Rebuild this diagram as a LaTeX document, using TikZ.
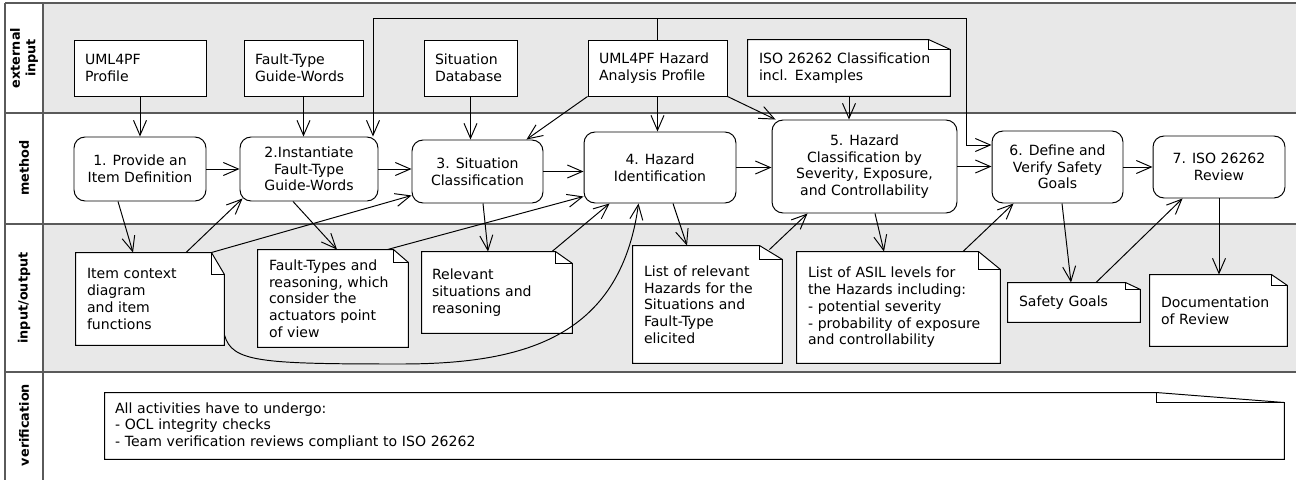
\documentclass[tikz,border=0pt]{standalone}
\usepackage{fontspec}
\setmainfont{DejaVu Sans}
\usetikzlibrary{arrows.meta}
\definecolor{lanegrey}{HTML}{E8E8E8}
\definecolor{laneline}{HTML}{5A5A5A}

\begin{document}
\begin{tikzpicture}[x=0.02cm,y=-0.02cm,line width=0.55pt,
		font=\fontsize{8}{9.5}\selectfont,
		lanetitle/.style={rotate=90,font=\fontsize{7.3}{8.8}\selectfont\bfseries,align=center},
		inbox/.style={draw,fill=white,align=left,inner xsep=0.22cm,inner ysep=0pt,minimum height=1.12cm},
		actbox/.style={draw,fill=white,rounded corners=0.22cm,align=center,inner sep=0pt},
		note/.style={fill=white,align=left,inner xsep=0.22cm,inner ysep=0pt},
		arr/.style={-{Straight Barb[length=0.3cm,width=0.26cm]}},
		arrboth/.style={{Straight Barb[length=0.3cm,width=0.26cm]}-{Straight Barb[length=0.3cm,width=0.26cm]}}]
		\useasboundingbox (0,0) rectangle (1296,480);
		\fill[lanegrey] (43,3) rectangle (1297,113);
		\fill[lanegrey] (43,224) rectangle (1297,372);
		\draw[laneline,line width=0.75pt] (5,3) -- (1297,3) (5,113) -- (1297,113) (5,224) -- (1297,224) (5,372) -- (1297,372) (5,3) -- (5,481) (43,3) -- (43,481);
		\node[lanetitle] (lext) at (24,58) {external\\input};
		\node[lanetitle] (lmet) at (24,168) {method};
		\node[lanetitle] (lio) at (24,298) {input/output};
		\node[lanetitle] (lver) at (24,425) {verification};

		\node[inbox,text width=2.2cm] (upf) at (140,68) {UML4PF\\Profile};
		\node[inbox,text width=1.94cm] (ftg) at (303.5,68) {Fault-Type\\Guide-Words};
		\node[inbox,text width=1.42cm] (sdb) at (470.5,68) {Situation\\Database};
		\node[inbox,text width=2.34cm] (hap) at (657.5,68) {UML4PF Hazard\\Analysis Profile};
		\node[note,text width=3.6cm,minimum height=1.12cm] (iso) at (849,68) {ISO 26262 Classification\\incl. Examples};

		\node[actbox,minimum width=2.64cm,minimum height=1.28cm] (b1) at (140,169) {1. Provide an\\Item Definition};
		\node[actbox,minimum width=2.76cm,minimum height=1.28cm] (b2) at (309,169) {2.Instantiate\\Fault-Type\\Guide-Words};
		\node[actbox,minimum width=2.62cm,minimum height=1.26cm] (b3) at (477.5,171.5) {3. Situation\\Classification};
		\node[actbox,minimum width=3.04cm,minimum height=1.42cm] (b4) at (660,167.5) {4. Hazard\\Identification};
		\node[actbox,minimum width=3.7cm,minimum height=1.86cm] (b5) at (864.5,166.5) {5. Hazard\\Classification by\\Severity, Exposure,\\and Controllability};
		\node[actbox,minimum width=2.62cm,minimum height=1.44cm] (b6) at (1057.5,167) {6. Define and\\Verify Safety\\Goals};
		\node[actbox,minimum width=2.64cm,minimum height=1.24cm] (b7) at (1219,167) {7. ISO 26262\\Review};

		\node[note,text width=2.52cm,minimum height=1.84cm] (ic) at (150,299) {Item context\\diagram\\and item\\functions};
		\node[note,text width=2.56cm,minimum height=1.94cm] (ftr) at (333,298.5) {Fault-Types and\\reasoning, which\\consider the\\actuators point\\of view};
		\node[note,text width=2.6cm,inner xsep=0.2cm,minimum height=1.62cm] (rsr) at (497,292.5) {Relevant\\situations and\\reasoning};
		\node[note,text width=2.54cm,minimum height=2.34cm] (hzl) at (707.5,304.5) {List of relevant\\Hazards for the\\Situations and\\Fault-Type\\elicited};
		\node[note,text width=3.62cm,minimum height=2.22cm] (asl) at (898.5,307.5) {List of ASIL levels for\\the Hazards including:\\- potential severity\\- probability of exposure\\and controllability};
		\node[note,text width=2.2cm,minimum height=0.78cm] (sg) at (1074,302.5) {Safety Goals};
		\node[note,text width=2.3cm,minimum height=1.42cm] (dor) at (1218.5,310.5) {Documentation\\of Review};
		\node[note,text width=23.18cm,inner xsep=0.2cm,minimum height=1.32cm] (ver) at (694.5,426) {All activities have to undergo:\\- OCL integrity checks\\- Team verification reviews compliant to ISO 26262};

		\foreach \n/\fw/\fh/\bg in {iso/22/10/lanegrey,ic/13/22/lanegrey,ftr/15/13/lanegrey,rsr/17/12/lanegrey,hzl/23/14/lanegrey,asl/22/18/lanegrey,sg/15/7/lanegrey,dor/16/11/lanegrey,ver/128/10/white}
		{
			\fill[\bg] ([xshift=-\fw*0.02cm]\n.north east) -- (\n.north east) -- ([yshift=-\fh*0.02cm]\n.north east) -- cycle;
			\draw (\n.north west) -- ([xshift=-\fw*0.02cm]\n.north east) -- ([yshift=-\fh*0.02cm]\n.north east) -- (\n.south east) -- (\n.south west) -- cycle;
			\draw ([xshift=-\fw*0.02cm]\n.north east) |- ([yshift=-\fh*0.02cm]\n.north east);
		}

		\coordinate (lpl) at (373,18);
		\coordinate (lpr) at (966,18);
		\coordinate (lpd) at (966,145);
		\coordinate (cv) at (400,364);

		\draw[arr] (upf.south) -- (b1.north);
		\draw[arr] (ftg.south) -- (ftg.south |- b2.north);
		\draw[arr] (sdb.south) -- (sdb.south |- b3.north);
		\draw[arr] (hap.south west) -- ([xshift=-0.34cm]b3.north east);
		\draw[arr] (hap.south) -- (hap.south |- b4.north);
		\draw[arr] (hap.south east) -- ([xshift=0.08cm]b5.north west);
		\draw[arr] (iso.south) -- (iso.south |- b5.north);
		\draw (hap.north) -- (hap.north |- lpl);
		\draw[arrboth] (lpl |- b2.north) -- (lpl) -- (lpr) -- (lpd) -- (lpd -| b6.west);

		\draw[arr] (b1.east) -- (b2.west);
		\draw[arr] (b2.east) -- (b2.east -| b3.west);
		\draw[arr] (b3.east) -- (b3.east -| b4.west);
		\draw[arr] (b4.east) -- (b4.east -| b5.west);
		\draw[arr] (b5.east) -- (b5.east -| b6.west);
		\draw[arr] (b6.east) -- (b7.west);

		\draw[arr] ([xshift=-0.44cm]b1.south) -- ([xshift=-0.34cm]ic.north);
		\draw[arr] ([xshift=0.72cm]ic.north) -- ([xshift=0.06cm,yshift=0.06cm]b2.south west);
		\draw[arr] ([xshift=-0.26cm]ic.north east) -- ([yshift=0.16cm]b3.south west);
		\draw[arr] ([xshift=-0.32cm]b2.south) -- ([xshift=0.08cm]ftr.north);
		\draw[arr] ([xshift=-0.42cm]ftr.north east) -- ([yshift=0.14cm]b4.south west);
		\draw[arr] ([xshift=0.11cm]b3.south) -- ([xshift=-0.18cm]rsr.north);
		\draw[arr] ([xshift=1.1cm]rsr.north) -- ([xshift=0.52cm]b4.south west);
		\draw[arr] ([yshift=-0.72cm]ic.east) .. controls (232,362) and (260,364) .. (cv) .. controls (520,364) and (620,340) .. ([xshift=1.1cm]b4.south west);
		\draw[arr] ([xshift=0.26cm]b4.south) -- ([xshift=-0.41cm]hzl.north);
		\draw[arr] ([xshift=-0.26cm,yshift=-0.08cm]hzl.north east) -- ([xshift=0.72cm]b5.south west);
		\draw[arr] ([xshift=0.21cm]b5.south) -- ([xshift=-0.29cm]asl.north);
		\draw[arr] ([xshift=1.29cm]asl.north) -- ([xshift=0.44cm]b6.south west);
		\draw[arr] ([xshift=0.09cm]b6.south) -- ([xshift=-0.06cm]sg.north);
		\draw[arr] ([xshift=0.44cm]sg.north) -- ([xshift=0.6cm]b7.south west);
		\draw[arr] (b7.south) -- (b7.south |- dor.north);
	\end{tikzpicture}
\end{document}
